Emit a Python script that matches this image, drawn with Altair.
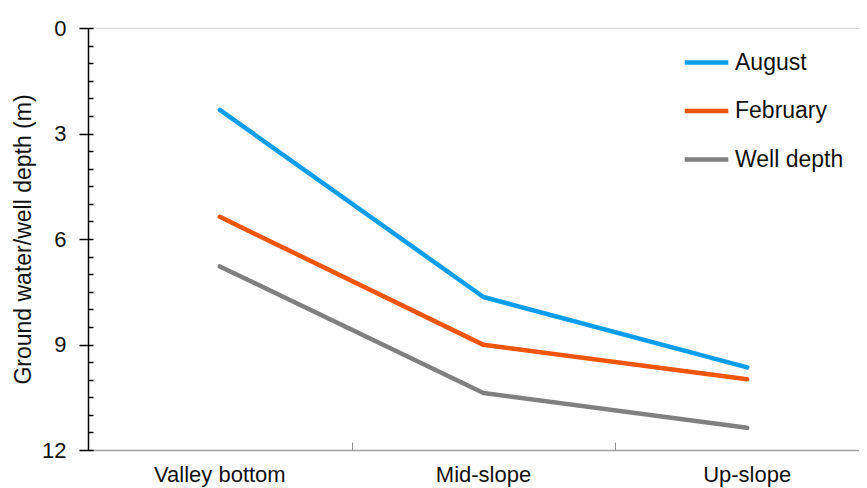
import altair as alt
import pandas as pd

sites = ["Valley bottom", "Mid-slope", "Up-slope"]
series = ["August", "February", "Well depth"]
august = [2.33, 7.65, 9.65]
february = [5.37, 9.01, 9.99]
well_depth = [6.78, 10.38, 11.37]
colors = ["#0a9ded", "#f0550c", "#808080"]

rows = []
for name, vals in zip(series, [august, february, well_depth]):
    for s, v in zip(sites, vals):
        rows.append({"site": s, "depth": v, "series": name})
df = pd.DataFrame(rows)

W, H = 771, 422
FONT = "Liberation Sans"

x_scale = alt.Scale(domain=sites, range=[0, 791], paddingInner=0, paddingOuter=0)
y_scale = alt.Scale(domain=[0, 12], reverse=True, nice=False, zero=False)

lines = alt.Chart(df).mark_line(strokeWidth=4.5, strokeCap="round", strokeJoin="round").encode(
    x=alt.X("site:N", scale=x_scale, sort=sites,
            axis=alt.Axis(title=None, orient="bottom", tickSize=0, domainColor="#a0a0a0",
                          domainWidth=1.5, labelAngle=0, labelFontSize=22, labelFont=FONT,
                          labelColor="#111", labelBaseline="alphabetic", labelPadding=31,
                          grid=False)),
    y=alt.Y("depth:Q", scale=y_scale,
            axis=alt.Axis(title="Ground water/well depth (m)", values=[0, 3, 6, 9, 12],
                          orient="left", tickSize=9, tickColor="#000", tickWidth=1.5,
                          domainColor="#000", domainWidth=1.5, labelFontSize=22,
                          labelFont=FONT, labelColor="#111", labelPadding=13,
                          titleFontSize=23, titleFont=FONT, titleFontWeight="normal",
                          titleColor="#111", titleAngle=270, titleAlign="center",
                          titleBaseline="alphabetic", titleX=-58, titleY=H / 2, grid=False)),
    color=alt.Color("series:N", sort=series,
                    scale=alt.Scale(domain=series, range=colors),
                    legend=alt.Legend(title=None, orient="none", legendX=594, legendY=10,
                                      symbolType="stroke", symbolSize=1900,
                                      symbolStrokeWidth=4.5, labelFontSize=23,
                                      labelFont=FONT, labelColor="#111", labelOffset=4,
                                      rowPadding=11.5, padding=0)),
)

# extra axes for inward ticks (minor ticks on y, category ticks on x)
ticks = alt.Chart(df).mark_line(opacity=0).encode(
    x=alt.X("site:N", scale=x_scale, sort=sites,
            axis=alt.Axis(title=None, orient="top", offset=-H, values=["Mid-slope", "Up-slope"],
                          tickBand="extent", tickSize=8, tickColor="#909090", tickWidth=1,
                          labels=False, domain=False, grid=False)),
    y=alt.Y("depth:Q", scale=y_scale,
            axis=alt.Axis(title=None, orient="right", offset=-W,
                          values=[i * 0.5 for i in range(25)], tickSize=5, tickColor="#000",
                          tickWidth=1.5, labels=False, domain=False, grid=False)),
    detail="series:N",
)

chart = alt.layer(lines, ticks).properties(
    width=W, height=H,
    autosize=alt.AutoSizeParams(type="none"),
    padding={"left": 80, "top": 20, "right": 0, "bottom": 38},
).configure_view(stroke=None).configure(background="white")

chart.save("out.html", embed_options={"renderer": "svg", "actions": False})
